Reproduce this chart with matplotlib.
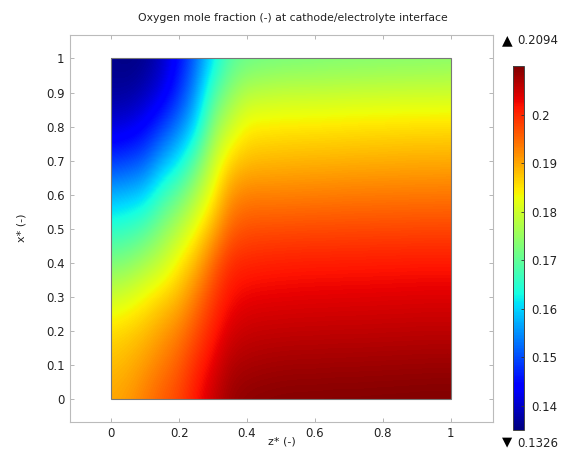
import matplotlib
matplotlib.use("Agg")
import matplotlib.pyplot as plt
from matplotlib.patches import Rectangle
from matplotlib.cm import ScalarMappable
from matplotlib.colors import Normalize
import numpy as np

title = "Oxygen mole fraction (-) at cathode/electrolyte interface"
xlabel = "z* (-)"
ylabel = "x* (-)"
vmin = 0.1326
vmax = 0.2094
bar_lo = 0.135
bar_hi = 0.21

# each list: x* = 0, 0.1, ... 1, one list per z* = 0, 0.05, ... 1
col_000 = [.1890, .187, .1845, .1785, .171, .1635, .1555, .146, .1385, .1345, .1335]
col_005 = [.190, .188, .1855, .180, .172, .1645, .1565, .147, .1395, .1345, .1328]
col_010 = [.1925, .190, .187, .1825, .175, .167, .158, .149, .1418, .1365, .1335]
col_015 = [.195, .1925, .1895, .185, .178, .172, .1645, .155, .1465, .1395, .137]
col_020 = [.197, .1950, .1920, .1875, .183, .1765, .169, .1595, .1515, .1455, .1425]
col_025 = [.2010, .199, .196, .1925, .1875, .182, .1755, .168, .1585, .1535, .150]
col_030 = [.2045, .2025, .200, .1975, .194, .188, .1825, .178, .1725, .166, .1595]
col_035 = [.2075, .206, .2035, .2012, .1990, .1945, .1905, .185, .1785, .1725, .167]
col_040 = [.2085, .2065, .2045, .2022, .1995, .196, .192, .187, .183, .1765, .169]
col_045 = [.2088, .2068, .2047, .2024, .1998, .1961, .192, .1873, .1833, .177, .1697]
col_050 = [.209, .207, .2048, .2025, .200, .1962, .192, .1875, .1835, .1775, .1702]
col_055 = [.2091, .2071, .2049, .2026, .2001, .1963, .1921, .1877, .1836, .1776, .1705]
col_060 = [.2091, .2071, .2049, .2027, .2002, .1964, .1922, .1878, .1837, .1777, .1707]
col_065 = [.2092, .2072, .205, .2027, .2002, .1964, .1923, .1879, .1838, .1778, .171]
col_070 = [.2092, .2072, .205, .2028, .2003, .1965, .1925, .188, .184, .178, .1712]
col_075 = [.2092, .2073, .205, .2028, .2003, .1965, .1925, .1881, .1841, .1781, .1713]
col_080 = [.2093, .2073, .2051, .2029, .2004, .1966, .1926, .1882, .1842, .1782, .1715]
col_085 = [.2093, .2074, .2051, .2029, .2004, .1966, .1926, .1883, .1843, .1783, .1716]
col_090 = [.2094, .2074, .2052, .203, .2005, .1967, .1927, .1884, .1844, .1784, .1717]
col_095 = [.2094, .2075, .2052, .203, .2005, .1967, .1927, .1884, .1844, .1784, .1718]
col_100 = [.2094, .2075, .2052, .203, .2005, .1967, .1928, .1885, .1845, .1785, .172]
columns = [col_000, col_005, col_010, col_015, col_020, col_025, col_030, col_035, col_040,
           col_045, col_050, col_055, col_060, col_065, col_070, col_075, col_080, col_085,
           col_090, col_095, col_100]

xticks = [0, 0.1, 0.2, 0.3, 0.4, 0.5, 0.6, 0.7, 0.8, 0.9, 1]
zticks = [0, 0.2, 0.4, 0.6, 0.8, 1]
cticks = [0.14, 0.15, 0.16, 0.17, 0.18, 0.19, 0.2]

W, H = 565, 449
fig = plt.figure(figsize=(W / 100, H / 100), dpi=100)
plt.rcParams['font.family'] = 'DejaVu Sans'
TXT = '#222222'

def rect(l, t, r, b):
    return [l / W, 1 - b / H, (r - l) / W, (b - t) / H]

ax = fig.add_axes(rect(69.5, 35, 492.5, 422))
C = np.array(columns).T
dz, dx = 0.025, 0.05
im = ax.imshow(C, origin='lower', extent=(-dz, 1 + dz, -dx, 1 + dx), aspect='auto',
               cmap='jet', vmin=vmin, vmax=vmax, interpolation='bicubic')
square = Rectangle((0, 0), 1, 1, transform=ax.transData, fill=False, edgecolor='#777777', lw=0.8, zorder=3)
ax.add_patch(square)
im.set_clip_path(square)
ax.set_xlim(-0.123, 1.123)
ax.set_ylim(-0.0675, 1.069)
ax.set_xticks(zticks, [str(t) for t in zticks])
ax.set_yticks(xticks, [str(t) for t in xticks])
ax.tick_params(labelsize=8.5, length=3, width=0.6, color='#aaaaaa', direction='in', pad=3.5,
               top=True, right=True, labelcolor=TXT)
for s in ax.spines.values():
    s.set_color('#bbbbbb')
    s.set_linewidth(0.8)
fig.text(281.7 / W, 1 - 442 / H, xlabel, fontsize=8, ha='center', va='center', color=TXT)
fig.text(21 / W, 1 - 228 / H, ylabel, fontsize=8, ha='center', va='center', rotation=90, color=TXT)
fig.text(293 / W, 1 - 18 / H, title, fontsize=7.8, ha='center', va='center', color=TXT)

cax = fig.add_axes(rect(512.5, 66, 524, 430))
cb = fig.colorbar(ScalarMappable(norm=Normalize(bar_lo, bar_hi), cmap='jet'), cax=cax, ticks=cticks)
cb.ax.set_yticklabels([f"{t:g}" for t in cticks])
cb.ax.tick_params(labelsize=8.5, length=2, width=0.6, direction='in', color='#333333', pad=5,
                  labelcolor=TXT)
cb.outline.set_linewidth(0.7)
cb.outline.set_edgecolor('#444444')

fig.text(507.5 / W, 1 - 40 / H, "\u25B2", fontsize=10, ha='center', va='center', color='black')
fig.text(517.5 / W, 1 - 40.5 / H, f"{vmax:.4f}", fontsize=8.5, ha='left', va='center', color=TXT)
fig.text(507.5 / W, 1 - 442 / H, "\u25BC", fontsize=9.5, ha='center', va='center', color='black')
fig.text(517.5 / W, 1 - 443.5 / H, f"{vmin:.4f}", fontsize=8.5, ha='left', va='center', color=TXT)

fig.savefig("out.png", dpi=100)
